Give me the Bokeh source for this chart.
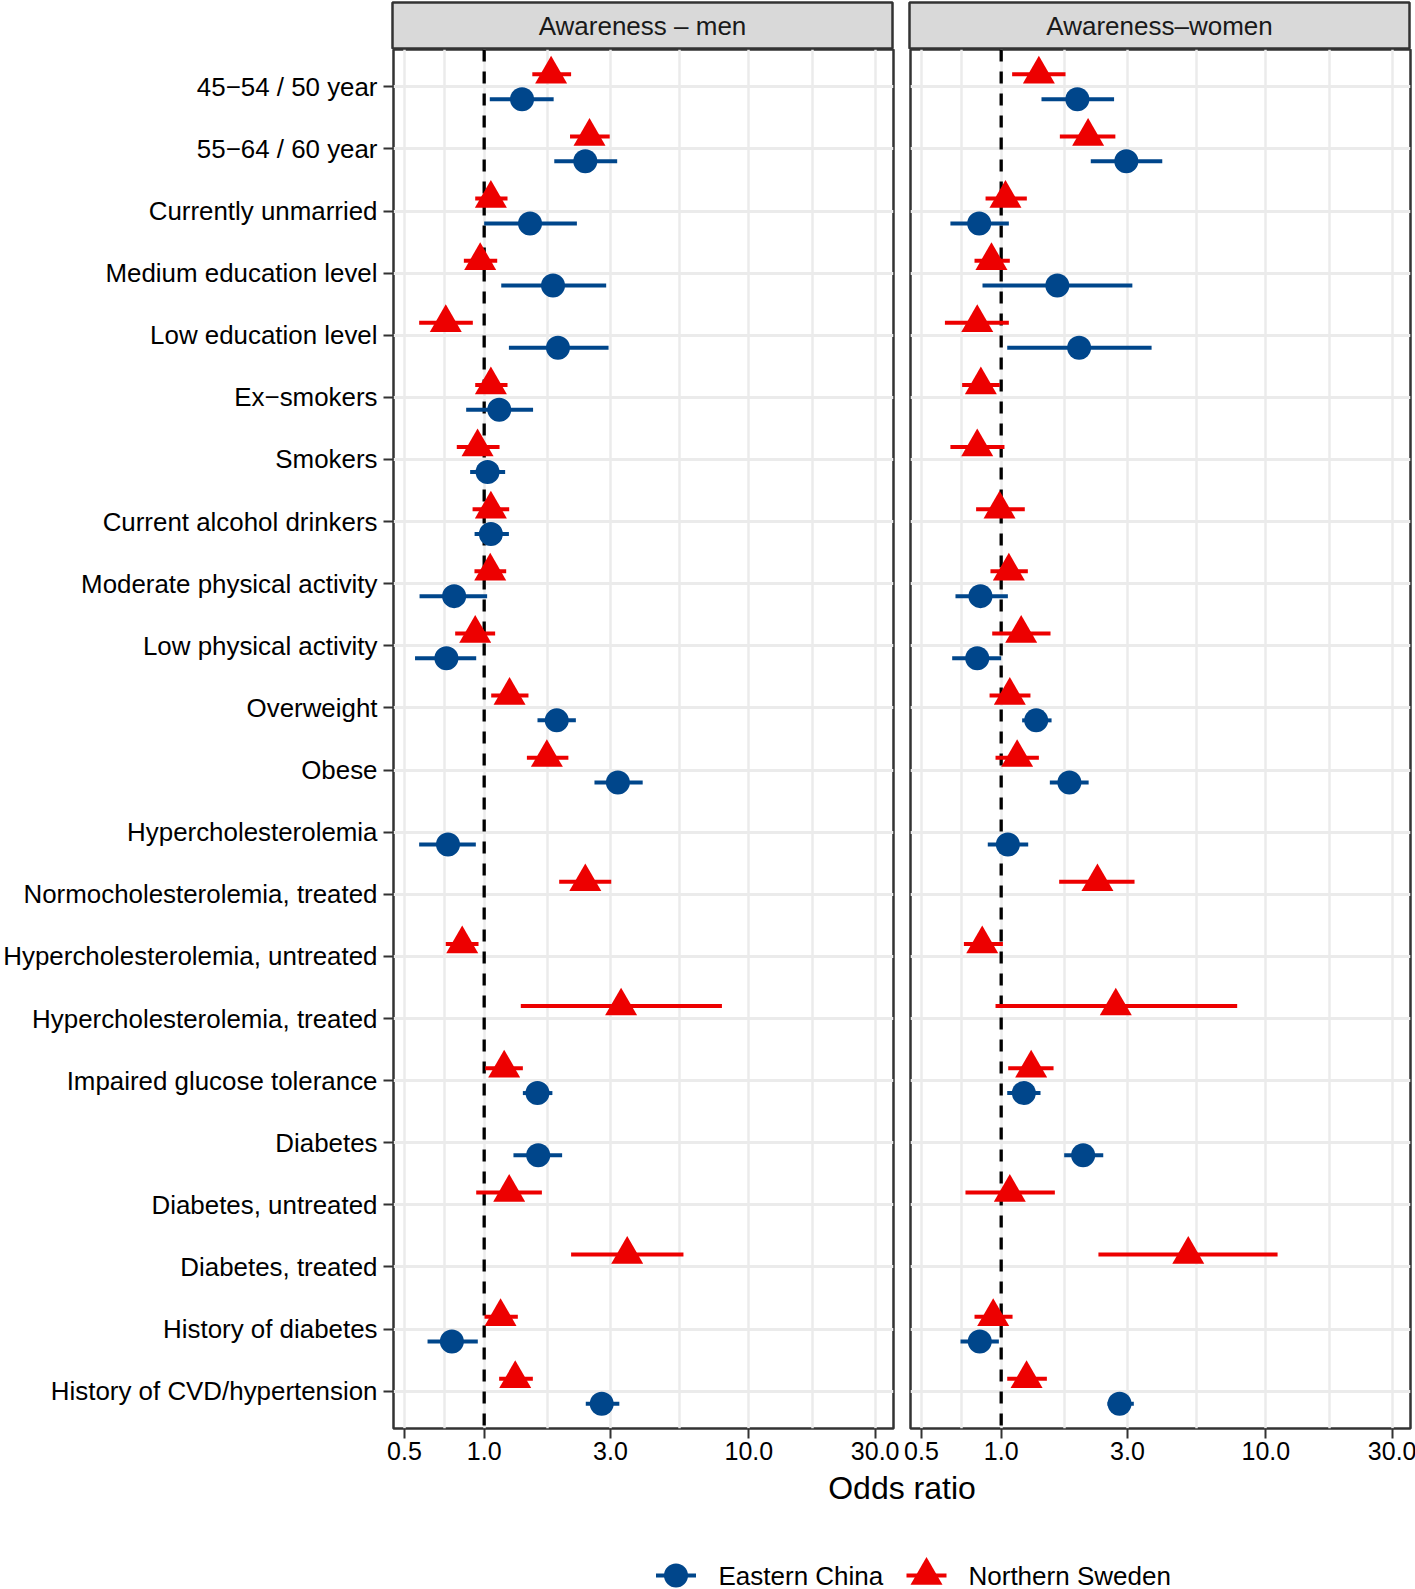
import math
from bokeh.plotting import figure
from bokeh.layouts import column, row
from bokeh.models import Range1d, FixedTicker, PrintfTickFormatter, Span, Label, ColumnDataSource
from bokeh.embed import file_html
from bokeh.resources import INLINE
from bokeh.core.properties import value

# ---------------- data ----------------
categories = [
    "45\u221254 / 50 year", "55\u221264 / 60 year", "Currently unmarried", "Medium education level",
    "Low education level", "Ex\u2212smokers", "Smokers", "Current alcohol drinkers",
    "Moderate physical activity", "Low physical activity", "Overweight", "Obese",
    "Hypercholesterolemia", "Normocholesterolemia, treated", "Hypercholesterolemia, untreated",
    "Hypercholesterolemia, treated", "Impaired glucose tolerance", "Diabetes",
    "Diabetes, untreated", "Diabetes, treated", "History of diabetes", "History of CVD/hypertension",
]
panel_titles = ["Awareness \u2013 men", "Awareness\u2013women"]
series_names = ["Eastern China", "Northern Sweden"]
x_ticks = [0.5, 1.0, 3.0, 10.0, 30.0]
x_title = "Odds ratio"
N = None

men_china_or = [1.39, 2.41, 1.49, 1.82, 1.90, 1.14, 1.03, 1.06, 0.77, 0.72, 1.88, 3.20, 0.73, N, N, N, 1.59, 1.60, N, N, 0.755, 2.78]
men_china_lo = [1.05, 1.84, 1.00, 1.16, 1.24, 0.855, 0.885, 0.92, 0.57, 0.548, 1.59, 2.61, 0.568, N, N, N, 1.40, 1.29, N, N, 0.611, 2.42]
men_china_hi = [1.83, 3.18, 2.24, 2.89, 2.95, 1.53, 1.20, 1.24, 1.026, 0.933, 2.22, 3.97, 0.93, N, N, N, 1.81, 1.97, N, N, 0.946, 3.24]

men_sweden_or = [1.79, 2.50, 1.06, 0.966, 0.716, 1.06, 0.944, 1.06, 1.054, 0.925, 1.247, 1.725, N, 2.41, 0.826, 3.29, 1.19, N, 1.243, 3.47, 1.153, 1.31]
men_sweden_lo = [1.52, 2.11, 0.925, 0.838, 0.568, 0.925, 0.788, 0.904, 0.919, 0.777, 1.063, 1.45, N, 1.92, 0.716, 1.375, 1.009, N, 0.933, 2.13, 1.003, 1.139]
men_sweden_hi = [2.13, 2.98, 1.225, 1.12, 0.906, 1.225, 1.143, 1.243, 1.211, 1.10, 1.47, 2.08, N, 3.02, 0.952, 7.91, 1.40, N, 1.652, 5.66, 1.34, 1.527]

women_china_or = [1.94, 2.97, 0.826, 1.63, 1.97, N, N, N, 0.835, 0.812, 1.356, 1.81, 1.06, N, N, N, 1.218, 2.04, N, N, 0.83, 2.80]
women_china_lo = [1.42, 2.18, 0.643, 0.85, 1.054, N, N, N, 0.672, 0.653, 1.20, 1.527, 0.89, N, N, N, 1.054, 1.73, N, N, 0.702, 2.52]
women_china_hi = [2.67, 4.06, 1.069, 3.13, 3.70, N, N, N, 1.06, 1.0, 1.55, 2.14, 1.265, N, N, N, 1.408, 2.43, N, N, 0.98, 3.17]

women_sweden_or = [1.388, 2.13, 1.038, 0.919, 0.812, 0.838, 0.812, 0.986, 1.069, 1.19, 1.078, 1.149, N, 2.31, 0.848, 2.71, 1.298, N, 1.078, 5.09, 0.933, 1.247]
women_sweden_lo = [1.10, 1.666, 0.873, 0.793, 0.613, 0.712, 0.643, 0.804, 0.911, 0.925, 0.904, 0.952, N, 1.656, 0.723, 0.952, 1.063, N, 0.733, 2.33, 0.793, 1.054]
women_sweden_hi = [1.75, 2.70, 1.25, 1.078, 1.069, 0.988, 1.029, 1.228, 1.261, 1.536, 1.29, 1.388, N, 3.19, 1.015, 7.79, 1.577, N, 1.595, 11.07, 1.104, 1.488]

# ---------------- style ----------------
FONT = "Liberation Sans"
CHINA_COLOR = "#00468B"
SWEDEN_COLOR = "#ED0000"
GRID = "#EBEBEB"
DARK = "#333333"
X_START, X_END = 0.4544, 35.18
NCAT = len(categories)
DODGE = 0.2
FRAME_W, FRAME_H = 500, 1379
LEFT_BORDER = 392
GAP_L, GAP_R = 9, 8
RIGHT_BORDER = 6
STRIP_TOP = 2
STRIP_H = 47
BOTTOM_BORDER = 40
PAGE_W, PAGE_H = 1415, 1589


def series_source(odds, lo, hi, offset):
    rows = [(NCAT - i + offset, o, l, h) for i, (o, l, h) in enumerate(zip(odds, lo, hi)) if o is not None]
    return ColumnDataSource(dict(
        y=[r[0] for r in rows], odds=[r[1] for r in rows],
        lo=[r[2] for r in rows], hi=[r[3] for r in rows]))


def make_panel(china, sweden, left):
    p = figure(x_axis_type="log", x_range=Range1d(X_START, X_END),
               y_range=Range1d(0.4, NCAT + 0.6),
               frame_width=FRAME_W, frame_height=FRAME_H,
               min_border_left=LEFT_BORDER if left else GAP_R,
               min_border_right=GAP_L if left else RIGHT_BORDER,
               min_border_top=0, min_border_bottom=BOTTOM_BORDER,
               output_backend="svg", toolbar_location=None)
    p.background_fill_color = "white"
    p.border_fill_color = "white"
    p.outline_line_color = DARK
    p.outline_line_width = 2.5

    minor = [math.sqrt(a * b) for a, b in zip(x_ticks[:-1], x_ticks[1:])]
    xt = FixedTicker(ticks=x_ticks, minor_ticks=minor)
    p.xaxis.ticker = xt
    p.xgrid.ticker = xt
    p.xaxis.formatter = PrintfTickFormatter(format="%.1f")
    p.xaxis.major_label_text_font = FONT
    p.xaxis.major_label_text_font_size = "25px"
    p.xaxis.major_label_text_color = "black"
    p.xaxis.major_tick_out = 10
    p.xaxis.major_tick_in = 0
    p.xaxis.major_tick_line_color = DARK
    p.xaxis.major_tick_line_width = 2
    p.xaxis.minor_tick_line_color = None
    p.xaxis.axis_line_color = None
    p.xaxis.major_label_standoff = 3

    yt = FixedTicker(ticks=list(range(1, NCAT + 1)))
    p.yaxis.ticker = yt
    p.ygrid.ticker = yt
    if left:
        p.yaxis.major_label_overrides = {NCAT - i: c for i, c in enumerate(categories)}
        p.yaxis.major_label_text_font = FONT
        p.yaxis.major_label_text_font_size = "25.9px"
        p.yaxis.major_label_text_color = "black"
        p.yaxis.major_tick_out = 10
        p.yaxis.major_tick_in = 0
        p.yaxis.major_tick_line_color = DARK
        p.yaxis.major_tick_line_width = 2
        p.yaxis.minor_tick_line_color = None
        p.yaxis.axis_line_color = None
        p.yaxis.major_label_standoff = 6
    else:
        p.yaxis.visible = False

    p.xgrid.grid_line_color = GRID
    p.xgrid.grid_line_width = 2.5
    p.xgrid.minor_grid_line_color = GRID
    p.xgrid.minor_grid_line_width = 2.5
    p.ygrid.grid_line_color = GRID
    p.ygrid.grid_line_width = 3

    p.add_layout(Span(location=1.0, dimension="height", line_color="black",
                      line_width=3.3, line_dash="12 10", level="underlay"))

    c_src = series_source(*china, -DODGE)
    s_src = series_source(*sweden, DODGE)
    p.segment(x0="lo", y0="y", x1="hi", y1="y", source=c_src, line_color=CHINA_COLOR, line_width=4)
    p.segment(x0="lo", y0="y", x1="hi", y1="y", source=s_src, line_color=SWEDEN_COLOR, line_width=4)
    p.scatter(x="odds", y="y", source=c_src, marker="circle", size=24,
              fill_color=CHINA_COLOR, line_color=None)
    p.scatter(x="odds", y="y", source=s_src, marker="triangle", size=32,
              fill_color=SWEDEN_COLOR, line_color=None)
    return p


def make_strip(text, left):
    s = figure(x_range=Range1d(0, 1), y_range=Range1d(0, 1),
               frame_width=FRAME_W, frame_height=STRIP_H,
               min_border_left=LEFT_BORDER if left else GAP_R,
               min_border_right=GAP_L if left else RIGHT_BORDER,
               min_border_top=STRIP_TOP, min_border_bottom=0,
               x_axis_location=None, y_axis_location=None,
               output_backend="svg", toolbar_location=None)
    s.grid.visible = False
    s.background_fill_color = "#D9D9D9"
    s.border_fill_color = "white"
    s.outline_line_color = DARK
    s.outline_line_width = 2.5
    s.add_layout(Label(x=0.5, y=0.5, text=text, text_align="center", text_baseline="middle",
                       text_font=FONT, text_font_size="26px", text_color="#1A1A1A"))
    return s


p1 = make_panel((men_china_or, men_china_lo, men_china_hi),
                (men_sweden_or, men_sweden_lo, men_sweden_hi), True)
p2 = make_panel((women_china_or, women_china_lo, women_china_hi),
                (women_sweden_or, women_sweden_lo, women_sweden_hi), False)
s1 = make_strip(panel_titles[0], True)
s2 = make_strip(panel_titles[1], False)

# bottom area: axis title + legend (page pixel coordinates)
top_b = STRIP_TOP + STRIP_H + FRAME_H + BOTTOM_BORDER
b = figure(x_range=Range1d(0, PAGE_W), y_range=Range1d(PAGE_H, top_b),
           width=PAGE_W, height=PAGE_H - top_b, min_border=0,
           x_axis_location=None, y_axis_location=None,
           output_backend="svg", toolbar_location=None)
b.grid.visible = False
b.outline_line_color = None
b.add_layout(Label(x=901.5, y=1487, text=x_title, text_align="center", text_baseline="middle",
                   text_font=FONT, text_font_size="32px", text_color="black"))

LEG_Y = 1575
leg_key_x = [675.5, 926.0]
leg_text_x = [718.0, 968.0]
leg_colors = [CHINA_COLOR, SWEDEN_COLOR]
leg_markers = ["circle", "triangle"]
leg_sizes = [24, 32]
for name, kx, tx, col, mk, sz in zip(series_names, leg_key_x, leg_text_x, leg_colors, leg_markers, leg_sizes):
    b.segment(x0=[kx - 20], y0=[LEG_Y], x1=[kx + 20], y1=[LEG_Y], line_color=col, line_width=4)
    b.scatter(x=[kx], y=[LEG_Y], marker=mk, size=sz, fill_color=col, line_color=None)
    b.add_layout(Label(x=tx, y=LEG_Y, text=name, text_align="left", text_baseline="middle",
                       text_font=FONT, text_font_size="26px", text_color="black"))

layout = column(row(s1, s2), row(p1, p2), b)
open("out.html", "w").write(file_html(layout, INLINE))
